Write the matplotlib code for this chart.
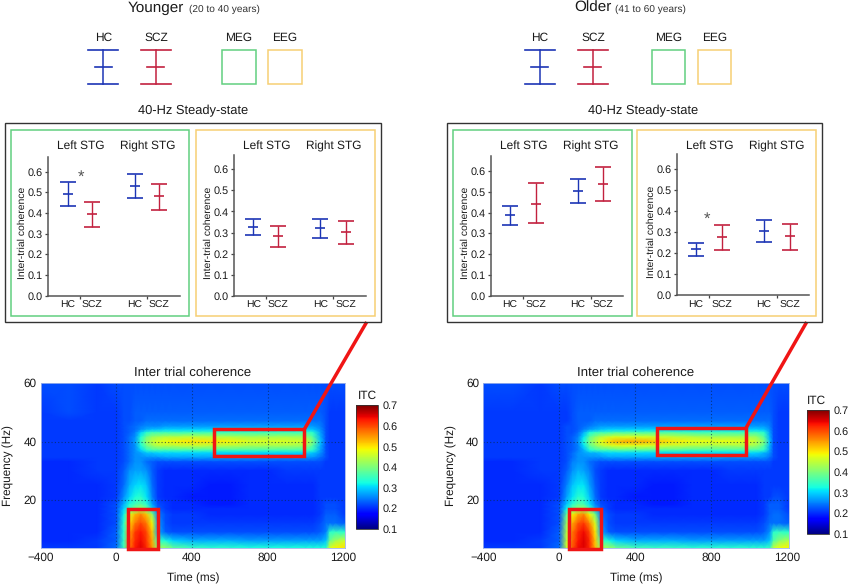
import matplotlib
matplotlib.use("Agg")
import matplotlib.pyplot as plt
from matplotlib.patches import Rectangle
import numpy as np

plt.rcParams['font.family'] = ['Liberation Sans', 'DejaVu Sans']
plt.rcParams['text.hinting'] = 'none'
W, H = 849, 584

GROUPS = ["HC", "SCZ", "HC", "SCZ"]
REGIONS = ["Left STG", "Right STG"]
HC_COLOR, SCZ_COLOR = "#1c35b5", "#c2213f"
GREEN, ORANGE = "#62cf80", "#f6cf74"
RED = "#f01515"
INK = "#1a1a1a"

young_meg_mean = [0.49, 0.395, 0.53, 0.482]
young_meg_lo = [0.432, 0.33, 0.472, 0.413]
young_meg_hi = [0.548, 0.453, 0.59, 0.54]
young_eeg_mean = [0.325, 0.283, 0.32, 0.303]
young_eeg_lo = [0.288, 0.233, 0.272, 0.247]
young_eeg_hi = [0.365, 0.33, 0.365, 0.354]
older_meg_mean = [0.388, 0.443, 0.503, 0.536]
older_meg_lo = [0.342, 0.35, 0.445, 0.455]
older_meg_hi = [0.43, 0.54, 0.56, 0.618]
older_eeg_mean = [0.218, 0.278, 0.305, 0.28]
older_eeg_lo = [0.187, 0.212, 0.253, 0.215]
older_eeg_hi = [0.25, 0.335, 0.357, 0.338]

TIMES = [-400, -250, -100, 0, 40, 70, 100, 130, 160, 190, 220, 260, 300, 400, 500, 600, 700, 800, 900, 1000, 1040, 1080, 1110, 1130, 1160, 1210]
FREQS = [60, 50, 47, 45, 44, 43, 41.5, 40, 38.5, 37, 36, 34.5, 33, 30, 25, 21, 18.5, 17, 15, 12, 9, 6, 3.7]
itc_young = [
    [22,22,21,22,22,22,22,22,22,22,22,22,22,22,22,22,22,22,22,22,22,22,22,22,22,22],
    [21,22,21,21,22,22,23,23,23,23,23,23,23,23,23,23,23,23,23,23,23,23,22,21,21,21],
    [21,21,21,21,22,22,23,23,24,24,24,24,24,24,24,24,24,24,24,24,24,24,22,21,21,21],
    [21,21,21,21,22,23,24,25,26,26,26,27,27,27,27,27,27,27,27,27,27,25,22,21,21,21],
    [21,21,21,21,22,23,24,26,28,29,29,30,30,30,30,30,30,30,30,30,29,26,22,21,21,21],
    [21,21,21,21,22,23,25,30,34,36,36,36,36,36,36,36,36,36,36,36,34,27,22,21,21,21],
    [21,21,21,21,22,24,26,33,39,42,43,44,44,45,44,44,43,43,43,42,37,28,22,21,21,21],
    [21,21,21,21,22,24,27,35,42,45,47,48,49,50,50,49,47,47,47,46,40,29,22,21,21,21],
    [21,21,21,21,22,24,26,33,39,42,44,44,44,45,44,44,43,43,43,42,37,28,22,21,21,21],
    [21,21,21,21,22,24,26,30,34,36,36,36,36,36,36,36,36,36,36,36,34,27,22,21,21,21],
    [21,21,21,21,22,24,26,27,29,29,30,30,30,30,30,30,30,30,30,30,29,26,22,21,21,21],
    [21,21,21,21,22,24,26,26,26,26,26,27,27,27,27,27,27,26,26,26,26,24,22,21,21,21],
    [20,20,21,21,22,24,26,26,24,23,22,22,22,22,22,22,22,22,22,22,22,22,21,21,21,21],
    [20,20,21,21,23,26,27,27,26,23,21,20,20,20,20,20,20,20,21,21,21,21,21,21,21,21],
    [20,20,20,21,24,28,30,31,29,24,21,20,20,20,19,19,20,20,20,20,20,21,21,21,21,21],
    [20,20,20,21,26,30,33,34,31,25,21,20,20,19,19,19,20,20,20,20,20,21,21,21,21,21],
    [20,20,20,22,28,33,36,37,34,27,22,21,20,20,19,19,20,20,20,20,20,21,22,22,22,21],
    [20,20,20,22,30,36,40,43,39,30,23,21,20,20,20,20,20,20,20,20,20,21,22,22,22,21],
    [20,20,20,22,32,47,53,56,52,42,25,22,21,21,20,20,20,20,20,20,20,21,23,23,23,21],
    [20,20,20,22,34,51,57,60,57,49,27,22,21,21,21,21,21,21,21,21,21,22,24,24,24,23],
    [20,20,20,23,34,54,61,63,60,52,28,23,22,22,22,22,22,22,22,22,22,23,25,34,35,34],
    [20,20,21,23,35,56,62,64,61,54,35,33,30,28,28,28,27,27,27,27,27,27,29,39,43,46],
    [21,21,21,24,36,57,63,65,62,55,41,42,38,35,34,34,33,33,33,33,33,33,34,47,49,50],
]
itc_older = [
    [22,22,21,22,22,22,22,22,22,22,22,22,22,22,22,22,22,22,22,22,22,22,22,22,22,22],
    [21,21,21,21,21,22,23,23,23,23,23,23,23,23,23,23,23,23,23,23,23,23,23,22,21,21],
    [21,21,21,21,21,22,23,23,23,24,24,24,24,24,24,24,24,24,24,24,24,24,24,22,21,21],
    [21,21,21,21,22,22,23,24,25,26,27,27,27,27,27,27,27,27,27,27,27,27,25,22,21,21],
    [21,21,21,21,22,22,23,25,27,28,29,30,30,30,30,30,30,30,30,30,30,29,26,22,21,21],
    [21,21,21,21,22,22,24,28,33,35,36,36,37,37,37,37,36,36,36,36,36,34,27,22,21,21],
    [21,21,21,21,22,23,25,31,38,41,44,46,47,47,46,45,44,43,43,43,42,37,28,22,21,21],
    [21,21,21,21,22,23,26,33,40,44,48,51,53,54,52,50,48,48,48,47,45,40,29,22,21,21],
    [21,21,21,21,22,23,25,31,38,41,44,46,47,47,46,45,44,43,43,43,42,37,28,22,21,21],
    [21,21,21,21,22,23,25,28,33,35,36,36,37,37,37,37,36,36,36,36,36,34,27,22,21,21],
    [21,21,21,21,22,24,26,27,28,28,29,30,30,30,30,30,30,30,30,30,30,28,26,22,21,21],
    [21,21,21,21,22,24,26,26,26,26,26,27,27,27,27,27,27,27,26,26,26,26,24,22,21,21],
    [20,20,21,21,22,25,26,26,24,23,22,22,22,22,22,22,22,22,22,22,22,22,22,21,21,21],
    [20,20,21,21,23,26,28,27,25,22,21,20,20,20,20,20,20,20,21,21,21,21,21,21,21,21],
    [20,20,20,21,25,29,31,31,27,23,21,20,20,20,19,19,20,20,20,20,20,21,21,21,21,21],
    [20,20,20,21,27,31,34,33,29,24,21,20,20,19,19,19,20,20,20,20,20,21,21,22,22,21],
    [20,20,20,22,29,34,37,36,31,25,22,21,20,20,19,19,20,20,20,20,20,21,23,23,23,21],
    [20,20,20,22,32,38,42,42,36,28,23,21,20,20,20,20,20,20,20,20,20,21,23,23,23,21],
    [20,20,20,22,38,49,54,56,49,40,24,22,21,21,20,20,20,20,20,20,20,21,23,24,24,22],
    [20,20,20,22,42,54,59,61,56,47,26,22,21,21,21,21,21,21,21,21,21,22,24,24,24,23],
    [20,20,20,23,44,57,62,64,60,50,28,23,22,22,22,22,22,22,22,22,22,23,26,34,35,34],
    [20,20,21,23,45,58,63,65,62,52,36,33,30,28,28,28,27,27,27,27,27,27,29,37,41,44],
    [21,21,21,24,46,59,64,65,62,53,42,43,39,36,35,35,34,34,34,34,34,34,35,45,48,49],
]

fig = plt.figure(figsize=(W / 100, H / 100), dpi=100)


def add_ax(x0, x1, y0, y1, **kw):
    """axes from pixel edges, y measured from the top"""
    return fig.add_axes([x0 / W, 1 - y1 / H, (x1 - x0) / W, (y1 - y0) / H], **kw)


ov = add_ax(0, W, 0, H, zorder=5)
ov.set_xlim(0, W)
ov.set_ylim(H, 0)
ov.axis("off")
ov.patch.set_alpha(0)


def box(x0, x1, y0, y1, color, lw):
    ov.add_patch(Rectangle((x0, y0), x1 - x0, y1 - y0, fill=False, ec=color, lw=lw))


def panel(x_axis, x_end, y_top, y_bottom, ylim_top, x_groups, x_ticks, mean, lo, hi, star=None):
    ax = add_ax(x_axis, x_end, y_top, y_bottom)
    ax.patch.set_alpha(0)
    unit = x_groups[1] - x_groups[0]
    pos = [(x - x_groups[0]) / unit for x in x_groups]
    ax.set_xlim((x_axis - x_groups[0]) / unit, (x_end - x_groups[0]) / unit)
    ax.set_ylim(0, ylim_top)
    for i, (p, m, l, h) in enumerate(zip(pos, mean, lo, hi)):
        c = HC_COLOR if i % 2 == 0 else SCZ_COLOR
        ax.errorbar([p], [m], yerr=[[m - l], [h - m]], color=c, lw=1.0, capsize=5.7, capthick=1.2,
                    fmt="none", clip_on=False)
        ax.plot([p], [m], marker="_", color=c, ms=6.6, mew=1.2, clip_on=False)
    ax.set_xticks([(x - x_groups[0]) / unit for x in x_ticks])
    ax.set_xticklabels([])
    ax.set_yticks(np.arange(0, 0.61, 0.1))
    ax.set_yticklabels([f"{v:.1f}" for v in np.arange(0, 0.61, 0.1)])
    ax.tick_params(axis="both", length=2.5, width=0.9, color="#444444", labelsize=7.8,
                   labelcolor=INK, pad=1.5)
    ax.spines[["top", "right"]].set_visible(False)
    ax.spines[["left", "bottom"]].set_color("#555555")
    ax.spines[["left", "bottom"]].set_linewidth(1.1)
    ax.set_ylabel("Inter-trial coherence", fontsize=7.5, color=INK)
    ax.yaxis.set_label_coords(-21.5 / (x_end - x_axis), 0.45)
    for g, x in zip(GROUPS, x_groups):
        ov.text(x, 305.5, g, ha="center", va="center", fontsize=7.5, color=INK)
    ov.text(x_ticks[0] + 0.5, 146, REGIONS[0], ha="center", va="center", fontsize=8.6, color=INK)
    ov.text(x_ticks[1] + 0.5, 146, REGIONS[1], ha="center", va="center", fontsize=8.6, color=INK)
    if star:
        ov.text(star[0], star[1], "*", ha="center", va="center", fontsize=12, color="#555555")


def legend(x_hc, x_scz, x_meg, x_eeg):
    top, bot, mid = 49.5, 84, 66.7
    for x, c, lab in ((x_hc, HC_COLOR, "HC"), (x_scz, SCZ_COLOR, "SCZ")):
        ov.plot([x, x], [top, bot], color=c, lw=1.1)
        ov.plot([x - 15, x + 15], [top, top], color=c, lw=1.2)
        ov.plot([x - 15, x + 15], [bot, bot], color=c, lw=1.2)
        ov.plot([x - 8.5, x + 8.5], [mid, mid], color=c, lw=1.2)
        ov.text(x, 38, lab, ha="center", va="center", fontsize=8.6, color=INK)
    for x, c, lab in ((x_meg, GREEN, "MEG"), (x_eeg, ORANGE, "EEG")):
        box(x, x + 33.7, top, bot, c, 1.1)
        ov.text(x + 16.7, 38, lab, ha="center", va="center", fontsize=8.6, color=INK)


def heat(x0, x1, values, cb, itc_pos):
    ax = add_ax(x0, x1, 383, 547.7)
    mesh = ax.pcolormesh(TIMES, FREQS, np.array(values) / 100, cmap="jet", vmin=0.1, vmax=0.7,
                         shading="gouraud", rasterized=True)
    ax.set_xlim(-400, 1210)
    ax.set_ylim(3.7, 60)
    ax.set_xticks([-400, 0, 400, 800, 1200])
    ax.set_xticklabels(["\u2212400", "0", "400", "800", "1200"])
    ax.set_yticks([20, 40, 60])
    ax.tick_params(length=0, labelsize=8.5, pad=3, labelcolor=INK)
    for t in (0, 400, 800):
        ax.axvline(t, color="#0a2a50", lw=0.8, ls=(0, (1, 2)), alpha=0.7)
    for f in (20, 40):
        ax.axhline(f, color="#0a2a50", lw=0.8, ls=(0, (1, 2)), alpha=0.7)
    for s in ax.spines.values():
        s.set_color("#9fb4ea")
        s.set_linewidth(0.6)
    ax.set_title("Inter trial coherence", fontsize=9.5, color=INK, pad=5)
    ax.set_xlabel("Time (ms)", fontsize=8.5, color=INK, labelpad=7)
    ax.set_ylabel("Frequency (Hz)", fontsize=8.5, color=INK, labelpad=6.5)
    cax = add_ax(*cb)
    bar = fig.colorbar(mesh, cax=cax)
    bar.set_ticks([0.1, 0.2, 0.3, 0.4, 0.5, 0.6, 0.7])
    bar.ax.tick_params(length=0, labelsize=7.8, pad=3, labelcolor=INK)
    bar.outline.set_edgecolor("#333333")
    bar.outline.set_linewidth(0.6)
    ov.text(itc_pos[0], itc_pos[1], "ITC", ha="center", va="center", fontsize=8.6, color=INK)


def red(x0, x1, y0, y1):
    box(x0, x1, y0, y1, RED, 2.5)


# ---- Younger
ov.text(128, 8, "Younger", ha="left", va="center", fontsize=11, color=INK)
ov.text(189, 9.5, "(20 to 40 years)", ha="left", va="center", fontsize=7.3, color="#333333")
legend(103.3, 156, 222.3, 268.3)
ov.text(193, 111, "40-Hz Steady-state", ha="center", va="center", fontsize=9.3, color=INK)
ov.plot([304.5, 366.7], [429, 322], color=RED, lw=2.5, solid_capstyle="butt", zorder=1)
box(4.7, 381, 123.3, 322, "#333333", 1.0)
box(11, 189.3, 130, 315.7, GREEN, 1.1)
box(195.7, 374.7, 130, 315.7, ORANGE, 1.1)
panel(48.3, 180, 156.7, 295.7, 0.672, [67.7, 92.3, 134.7, 159.3], [80, 147.3],
      young_meg_mean, young_meg_lo, young_meg_hi, star=(81, 177))
panel(234.3, 365.7, 155, 295.7, 0.668, [253.3, 278, 320.3, 345.7], [266, 333.3],
      young_eeg_mean, young_eeg_lo, young_eeg_hi)
heat(40.7, 345, itc_young, (356.3, 378.3, 405.3, 529), (367.7, 395.7))
red(127.7, 158, 508.5, 549)
red(214.5, 304.5, 429, 455.5)

# ---- Older
ov.text(574, 8, "Older", ha="left", va="center", fontsize=11, color=INK)
ov.text(615, 9.5, "(41 to 60 years)", ha="left", va="center", fontsize=7.3, color="#333333")
legend(540, 593, 651.7, 697.7)
ov.text(643, 111, "40-Hz Steady-state", ha="center", va="center", fontsize=9.3, color=INK)
ov.plot([746, 806.7], [428, 322], color=RED, lw=2.5, solid_capstyle="butt", zorder=1)
box(446.7, 822.3, 123.3, 322, "#333333", 1.0)
box(452.7, 631.7, 130, 316, GREEN, 1.1)
box(637.3, 816, 130, 316, ORANGE, 1.1)
panel(491, 622.7, 156, 295.7, 0.672, [509.7, 535.7, 577.7, 603], [523.3, 590.7],
      older_meg_mean, older_meg_lo, older_meg_hi)
panel(677.3, 809, 154.3, 295, 0.67, [696, 722, 764, 789.7], [709.3, 776.7],
      older_eeg_mean, older_eeg_lo, older_eeg_hi, star=(707, 219))
heat(483.3, 788.7, itc_older, (807.3, 829, 410, 534), (816.7, 400.7))
red(569.3, 601.3, 508.5, 549)
red(656.7, 746, 428, 455)

fig.savefig("out.png", dpi=100)
